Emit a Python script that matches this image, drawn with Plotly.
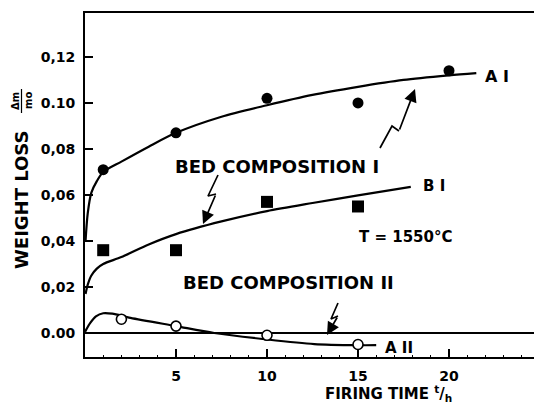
import plotly.graph_objects as go

# Measured weight loss vs firing time (T = 1550 °C)
t_a1 = [1, 5, 10, 15, 20]
w_a1 = [0.071, 0.087, 0.102, 0.100, 0.114]

t_b1 = [1, 5, 10, 15]
w_b1 = [0.036, 0.036, 0.057, 0.055]

t_a2 = [2, 5, 10, 15]
w_a2 = [0.006, 0.003, -0.001, -0.005]

# Fitted trend curves
fit_a1_t = [0.03, 0.15, 0.35, 0.65, 1.0, 2.0, 3.5, 5.0, 7.5, 10.0, 12.5, 15.0, 17.5, 20.0, 21.5]
fit_a1_w = [0.040, 0.052, 0.061, 0.066, 0.070, 0.0745, 0.081, 0.087, 0.094, 0.099, 0.1035, 0.107, 0.110, 0.112, 0.113]

fit_b1_t = [0.03, 0.15, 0.35, 0.65, 1.0, 2.0, 3.5, 5.0, 7.5, 10.0, 12.5, 15.0, 17.9]
fit_b1_w = [0.017, 0.021, 0.025, 0.028, 0.030, 0.033, 0.0385, 0.043, 0.0485, 0.053, 0.0565, 0.0598, 0.0635]

fit_a2_t = [0.0, 0.3, 0.6, 1.0, 1.5, 2.5, 5.0, 7.1, 10.0, 12.6, 15.0, 16.0]
fit_a2_w = [0.0005, 0.0045, 0.0072, 0.0086, 0.0084, 0.0066, 0.0030, 0.0000, -0.0028, -0.0048, -0.0053, -0.0053]

y_ticks = [0.00, 0.02, 0.04, 0.06, 0.08, 0.10, 0.12]
y_tick_text = ["0.00", "0,02", "0,04", "0,06", "0,08", "0.10", "0,12"]
x_ticks = [5, 10, 15, 20]

FONT = "DejaVu Sans"
W, H = 534, 406
ML, MR, MT, MB = 85, 0, 13, 49
X_RANGE = [0, 24.67]
Y_RANGE = [-0.01043, 0.1391]


def px2data(px, py):
    """Convert page pixel position to data coordinates."""
    fx = (px - ML) / (W - ML - MR)
    fy = (H - MB - py) / (H - MT - MB)
    return (X_RANGE[0] + fx * (X_RANGE[1] - X_RANGE[0]),
            Y_RANGE[0] + fy * (Y_RANGE[1] - Y_RANGE[0]))


def px2paper(px, py):
    return ((px - ML) / (W - ML - MR), (H - MB - py) / (H - MT - MB))


def bold(size):
    return dict(family=FONT, size=size, color="black", weight="bold")


fig = go.Figure()

line_style = dict(color="black", width=2.2, shape="spline", smoothing=0.8)
for tx, wy in [(fit_a1_t, fit_a1_w), (fit_b1_t, fit_b1_w), (fit_a2_t, fit_a2_w)]:
    fig.add_trace(go.Scatter(x=tx, y=wy, mode="lines", line=line_style,
                             hoverinfo="skip", showlegend=False))

fig.add_trace(go.Scatter(x=t_a1, y=w_a1, mode="markers", showlegend=False,
                         marker=dict(symbol="circle", size=11, color="black")))
fig.add_trace(go.Scatter(x=t_b1, y=w_b1, mode="markers", showlegend=False,
                         marker=dict(symbol="square", size=12, color="black")))
fig.add_trace(go.Scatter(x=t_a2, y=w_a2, mode="markers", showlegend=False,
                         marker=dict(symbol="circle", size=10, color="white",
                                     line=dict(color="black", width=1.6))))

# Lightning-style pointer arrows (page pixel paths)
arrows = [
    [(218, 175), (208, 196), (216, 194), (203, 224)],
    [(380, 148), (392, 126), (399, 131), (415, 89)],
    [(338, 303), (331, 319), (338, 316), (327, 335)],
]
for path in arrows:
    pts = [px2data(*p) for p in path]
    fig.add_trace(go.Scatter(x=[p[0] for p in pts[:-1]], y=[p[1] for p in pts[:-1]],
                             mode="lines", line=dict(color="black", width=1.7),
                             hoverinfo="skip", showlegend=False))
    (x0, y0), (x1, y1) = pts[-2], pts[-1]
    fig.add_annotation(x=x1, y=y1, ax=x0, ay=y0, xref="x", yref="y",
                       axref="x", ayref="y", text="", showarrow=True,
                       arrowhead=2, arrowsize=1.5, arrowwidth=1.7,
                       arrowcolor="black")

labels = [
    ("BED COMPOSITION I", 277, 166, 18),
    ("BED COMPOSITION II", 288, 282, 18),
    ("T = 1550°C", 406, 237, 15),
    ("B I", 434, 186, 15),
    ("A I", 497, 76, 16),
    ("A II", 399, 348, 15),
]
for txt, px, py, size in labels:
    fx, fy = px2paper(px, py)
    fig.add_annotation(x=fx, y=fy, xref="paper", yref="paper", text=txt,
                       showarrow=False, xanchor="center", yanchor="middle",
                       font=bold(size))

# Axis titles
fx, fy = px2paper(21, 200)
fig.add_annotation(x=fx, y=fy, xref="paper", yref="paper", text="WEIGHT LOSS",
                   textangle=-90, showarrow=False, xanchor="center", yanchor="middle",
                   font=bold(18))
fx, fy = px2paper(15, 101)
fig.add_annotation(x=fx, y=fy, xref="paper", yref="paper", text="Δm",
                   textangle=-90, showarrow=False, xanchor="center", yanchor="middle",
                   font=bold(10))
fx, fy = px2paper(28, 101)
fig.add_annotation(x=fx, y=fy, xref="paper", yref="paper", text="mo",
                   textangle=-90, showarrow=False, xanchor="center", yanchor="middle",
                   font=bold(10))
b0 = px2paper(21.5, 89)
b1 = px2paper(21.5, 113)
fig.add_shape(type="line", xref="paper", yref="paper", x0=b0[0], y0=b0[1],
              x1=b1[0], y1=b1[1], line=dict(color="black", width=1.2))

fx, fy = px2paper(388, 393)
fig.add_annotation(x=fx, y=fy, xref="paper", yref="paper",
                   text="FIRING TIME <sup>t</sup>/<sub>h</sub>",
                   showarrow=False, xanchor="center", yanchor="middle",
                   font=bold(15))

tick_font = bold(14)
fig.update_layout(
    width=W, height=H,
    margin=dict(l=ML, r=MR, t=MT, b=MB),
    paper_bgcolor="white", plot_bgcolor="white",
    xaxis=dict(range=X_RANGE, showgrid=False, zeroline=False,
               showline=True, linecolor="black", linewidth=2, mirror=True,
               ticks="inside", ticklen=8, tickwidth=2, tickcolor="black",
               tickvals=x_ticks, tickfont=tick_font, ticklabelstandoff=5,
               minor=dict(ticks="inside", ticklen=2, tickwidth=1, dtick=1,
                          tickcolor="black")),
    yaxis=dict(range=Y_RANGE, showgrid=False,
               zeroline=True, zerolinecolor="black", zerolinewidth=1.6,
               showline=True, linecolor="black", linewidth=2,
               ticks="inside", ticklen=8, tickwidth=2, tickcolor="black",
               tickvals=y_ticks, ticktext=y_tick_text, tickfont=tick_font,
               ticklabelstandoff=5),
)

fig.write_html("out.html")
